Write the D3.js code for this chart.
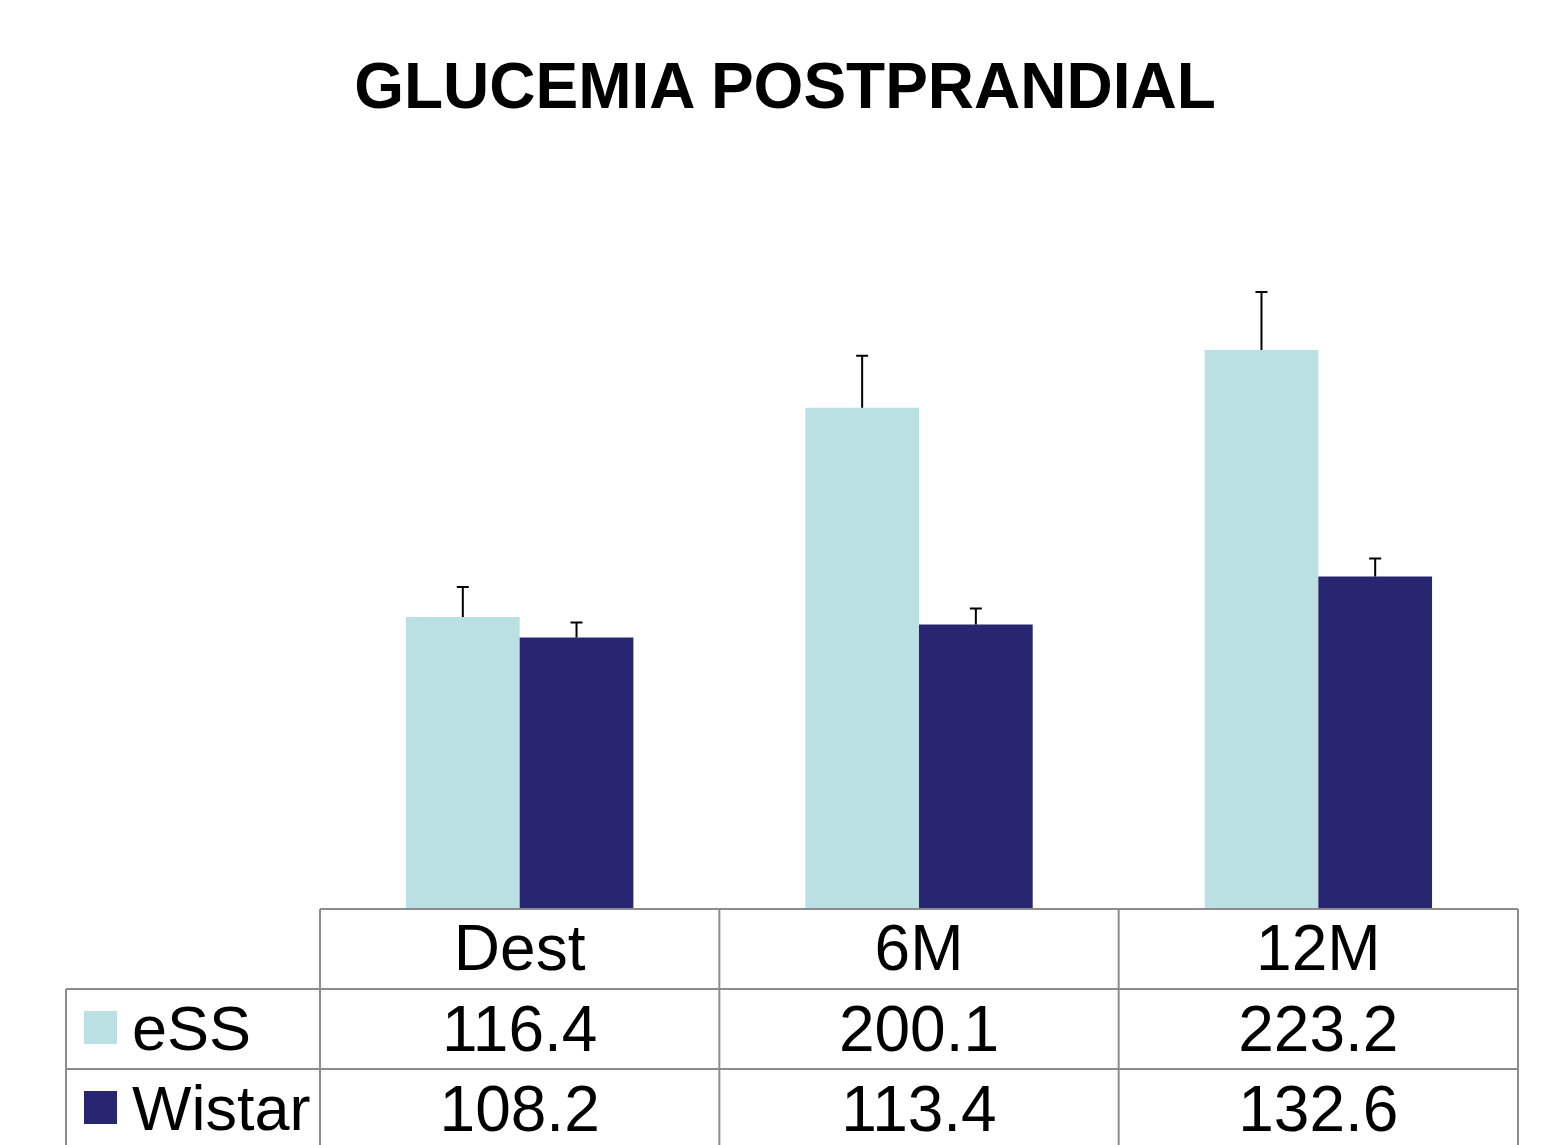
<!DOCTYPE html>
<html>
<head>
<meta charset="utf-8">
<script src="https://cdn.jsdelivr.net/npm/d3@7"></script>
<style>
  html, body { margin: 0; padding: 0; background: #fff; }
  svg { display: block; }
</style>
</head>
<body>
<svg id="chart" width="1567" height="1145"></svg>
<script>
const categories = ["Dest", "6M", "12M"];
const seriesNames = ["eSS", "Wistar"];
const essValues = [116.4, 200.1, 223.2];
const wistarValues = [108.2, 113.4, 132.6];
const essErrors = [12, 20.8, 23.2];
const wistarErrors = [6, 6.4, 7.2];
const colors = ["#bae0e3", "#282670"];
const title = "GLUCEMIA POSTPRANDIAL";

const seriesValues = [essValues, wistarValues];
const seriesErrors = [essErrors, wistarErrors];

const svg = d3.select("#chart");
const W = 1567, H = 1145;
const font = "'Liberation Sans', Arial, Helvetica, sans-serif";

const tableLeft = 66, plotLeft = 320, plotRight = 1518;
const baseY = 908;
const rowH = 80;

const x = d3.scaleBand().domain(categories).range([plotLeft, plotRight]).paddingInner(0).paddingOuter(0);
const xs = d3.scaleBand().domain(seriesNames).range([0, x.bandwidth()]).paddingInner(0).paddingOuter(0.756);
const y = d3.scaleLinear().domain([0, 250]).range([baseY, baseY - 625]);

// Title
svg.append("text")
  .attr("x", 785).attr("y", 108)
  .attr("text-anchor", "middle")
  .attr("font-family", font).attr("font-weight", "bold")
  .attr("font-size", 64).attr("fill", "#000")
  .text(title);

// Bars
const flat = [];
seriesNames.forEach((s, si) => {
  categories.forEach((c, ci) => {
    flat.push({ s, si, c, v: seriesValues[si][ci], e: seriesErrors[si][ci] });
  });
});

svg.append("g").selectAll("rect").data(flat).join("rect")
  .attr("x", d => x(d.c) + xs(d.s))
  .attr("width", xs.bandwidth())
  .attr("y", d => y(d.v))
  .attr("height", d => y(0) - y(d.v))
  .attr("fill", d => colors[d.si]);

// Error bars
const eg = svg.append("g").attr("stroke", "#000").attr("stroke-width", 2);
flat.forEach(d => {
  const cx = x(d.c) + xs(d.s) + xs.bandwidth() / 2;
  eg.append("line").attr("x1", cx).attr("x2", cx).attr("y1", y(d.v)).attr("y2", y(d.v + d.e));
  eg.append("line").attr("x1", cx - 6).attr("x2", cx + 6).attr("y1", y(d.v + d.e)).attr("y2", y(d.v + d.e));
});

// Data table
const tg = svg.append("g").attr("stroke", "#8c8c8c").attr("stroke-width", 2).attr("fill", "none");
const tTop = baseY + 1;
tg.append("line").attr("x1", plotLeft).attr("x2", plotRight).attr("y1", tTop).attr("y2", tTop);
tg.append("line").attr("x1", tableLeft).attr("x2", plotRight).attr("y1", tTop + rowH).attr("y2", tTop + rowH);
tg.append("line").attr("x1", tableLeft).attr("x2", plotRight).attr("y1", tTop + 2 * rowH).attr("y2", tTop + 2 * rowH);
tg.append("line").attr("x1", tableLeft).attr("x2", plotRight).attr("y1", tTop + 3 * rowH).attr("y2", tTop + 3 * rowH);
tg.append("line").attr("x1", tableLeft).attr("x2", tableLeft).attr("y1", tTop + rowH).attr("y2", H + 10);
const vx = categories.map(c => x(c)).concat([plotRight]);
vx.forEach(v => {
  tg.append("line").attr("x1", v).attr("x2", v).attr("y1", tTop).attr("y2", H + 10);
});

const txt = svg.append("g").attr("font-family", font).attr("font-size", 64).attr("fill", "#000");
categories.forEach((c, ci) => {
  const cx = x(c) + x.bandwidth() / 2;
  txt.append("text").attr("x", cx).attr("y", tTop + 61).attr("text-anchor", "middle").text(c);
  seriesNames.forEach((s, si) => {
    txt.append("text").attr("x", cx).attr("y", tTop + rowH * (si + 1) + 62)
      .attr("text-anchor", "middle").text(seriesValues[si][ci].toFixed(1));
  });
});

// legend in table
seriesNames.forEach((s, si) => {
  const rowTop = tTop + rowH * (si + 1);
  svg.append("rect").attr("x", 84).attr("y", rowTop + 22).attr("width", 33).attr("height", 33)
    .attr("fill", colors[si]);
  txt.append("text").attr("x", 132).attr("y", rowTop + 61).attr("font-size", 63).text(s);
});
</script>
</body>
</html>
